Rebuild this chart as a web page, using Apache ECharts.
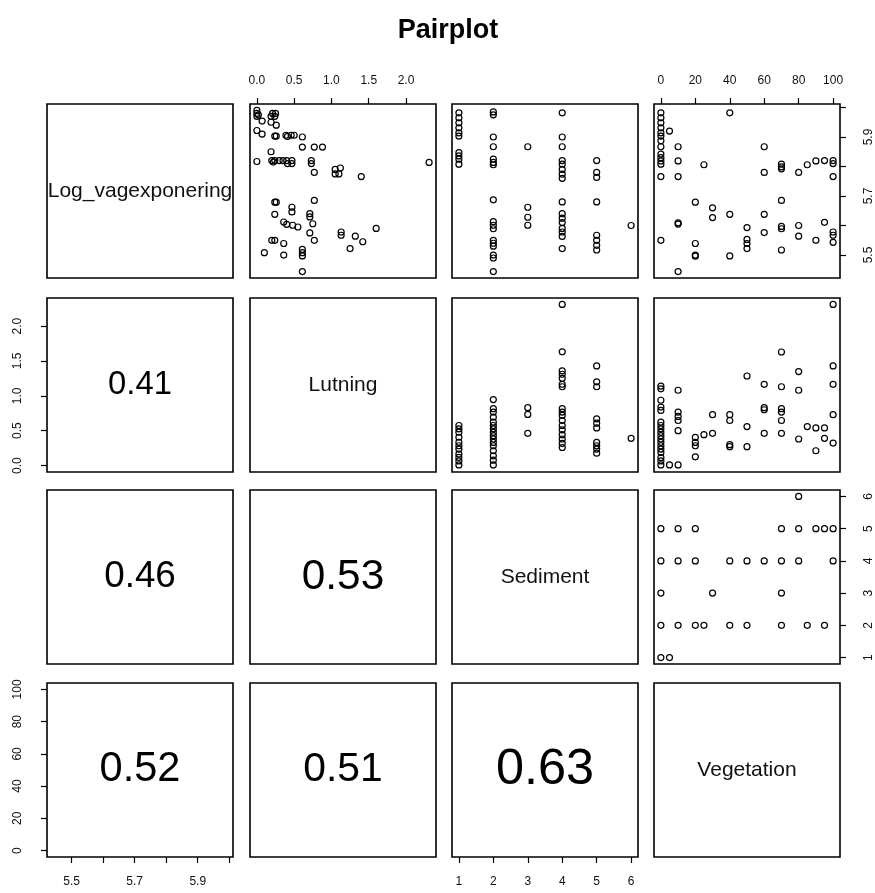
<!DOCTYPE html>
<html>
<head>
<meta charset="utf-8">
<script src="https://cdn.jsdelivr.net/npm/echarts@6/dist/echarts.min.js"></script>
<style>
html, body { margin: 0; padding: 0; background: #fff; }
#chart { width: 875px; height: 893px; }
</style>
</head>
<body>
<div id="chart"></div>
<script>
// diagonal labels
const varNames = ['Log_vagexponering', 'Lutning', 'Sediment', 'Vegetation'];

// lower panels: [row, col, r]
const corValues = [[1, 0, 0.41], [2, 0, 0.46], [2, 1, 0.53], [3, 0, 0.52], [3, 1, 0.51], [3, 2, 0.63]];

// tick marks / labels
const logTicks = [5.5, 5.6, 5.7, 5.8, 5.9, 6.0];
const logLabels = [5.5, 5.7, 5.9];
const lutTicks = [0, 0.5, 1, 1.5, 2];
const sedTicks = [1, 2, 3, 4, 5, 6];
const vegTicks = [0, 20, 40, 60, 80, 100];

// upper panels, [x, y]
// Lutning vs Log_vagexponering
const lutLog = [
  [0, 5.99], [0, 5.98], [0, 5.97], [0.02, 5.975], [0.21, 5.98], [0.25, 5.98], [0.19, 5.97], [0.24, 5.97],
  [0.07, 5.954], [0.19, 5.95], [0.26, 5.94], [0, 5.922], [0.07, 5.91], [0.24, 5.903], [0.26, 5.903],
  [0.39, 5.906], [0.46, 5.906], [0.5, 5.906], [0.41, 5.902], [0.61, 5.9], [0.61, 5.866], [0.77, 5.866],
  [0.88, 5.866], [0, 5.817], [0.19, 5.85], [0.2, 5.82], [0.24, 5.82], [0.3, 5.82], [0.35, 5.82], [0.4, 5.82],
  [0.47, 5.82], [0.22, 5.815], [0.41, 5.81], [0.47, 5.81], [0.73, 5.82], [0.73, 5.81], [0.77, 5.78],
  [1.05, 5.79], [1.12, 5.795], [1.05, 5.775], [1.1, 5.775], [1.4, 5.766], [2.31, 5.814], [0.24, 5.679],
  [0.26, 5.679], [0.77, 5.685], [0.47, 5.662], [0.47, 5.646], [0.24, 5.638], [0.71, 5.64], [0.71, 5.629],
  [0.75, 5.606], [0.36, 5.612], [0.4, 5.604], [0.48, 5.601], [0.55, 5.595], [0.71, 5.575], [0.77, 5.55],
  [1.13, 5.578], [1.13, 5.567], [1.32, 5.564], [1.42, 5.545], [1.6, 5.59], [1.25, 5.522], [0.2, 5.55],
  [0.24, 5.55], [0.36, 5.539], [0.1, 5.508], [0.36, 5.5], [0.61, 5.519], [0.61, 5.508], [0.61, 5.497],
  [0.61, 5.444]
];
// Sediment vs Log_vagexponering
const sedLog = [
  [1, 5.982], [1, 5.965], [1, 5.948], [1, 5.931], [1, 5.914], [1, 5.903], [1, 5.847], [1, 5.836], [1, 5.825], [1, 5.808],
  [2, 5.985], [2, 5.975], [2, 5.9], [2, 5.867], [2, 5.825], [2, 5.814], [2, 5.806], [2, 5.687], [2, 5.613],
  [2, 5.601], [2, 5.589], [2, 5.55], [2, 5.54], [2, 5.53], [2, 5.5], [2, 5.49], [2, 5.444],
  [3, 5.867], [3, 5.662], [3, 5.628], [3, 5.601],
  [4, 5.982], [4, 5.9], [4, 5.867], [4, 5.82], [4, 5.808], [4, 5.79], [4, 5.774], [4, 5.76], [4, 5.68],
  [4, 5.64], [4, 5.625], [4, 5.61], [4, 5.59], [4, 5.578], [4, 5.563], [4, 5.522],
  [5, 5.82], [5, 5.78], [5, 5.763], [5, 5.68], [5, 5.567], [5, 5.55], [5, 5.533], [5, 5.517],
  [6, 5.6]
];
// Vegetation vs Log_vagexponering
const vegLog = [
  [0, 5.982], [0, 5.965], [0, 5.948], [0, 5.931], [0, 5.914], [0, 5.903], [0, 5.887], [0, 5.867], [0, 5.842],
  [0, 5.83], [0, 5.819], [0, 5.808], [0, 5.766], [0, 5.55], [5, 5.92],
  [10, 5.867], [10, 5.819], [10, 5.766], [10, 5.609], [10, 5.605], [10, 5.444],
  [25, 5.806], [20, 5.679], [20, 5.539], [20, 5.5], [20, 5.496], [30, 5.66], [30, 5.627],
  [40, 5.982], [40, 5.638], [40, 5.497], [50, 5.593], [50, 5.553], [50, 5.539], [50, 5.522],
  [60, 5.867], [60, 5.78], [60, 5.638], [60, 5.576],
  [70, 5.808], [70, 5.799], [70, 5.792], [70, 5.685], [70, 5.597], [70, 5.589], [70, 5.517],
  [80, 5.78], [80, 5.6], [80, 5.564], [85, 5.806], [90, 5.819], [90, 5.55], [95, 5.82], [95, 5.611],
  [100, 5.82], [100, 5.81], [100, 5.766], [100, 5.578], [100, 5.567], [100, 5.543]
];
// Sediment vs Lutning
const sedLut = [
  [1, 0.574], [1, 0.526], [1, 0.478], [1, 0.406], [1, 0.333], [1, 0.284], [1, 0.236], [1, 0.164], [1, 0.116], [1, 0.067], [1, 0.009],
  [2, 0.946], [2, 0.816], [2, 0.767], [2, 0.694], [2, 0.622], [2, 0.574], [2, 0.526], [2, 0.477], [2, 0.429],
  [2, 0.381], [2, 0.332], [2, 0.284], [2, 0.212], [2, 0.139], [2, 0.077], [2, 0.009],
  [3, 0.83], [3, 0.733], [3, 0.462],
  [4, 2.31], [4, 1.63], [4, 1.357], [4, 1.309], [4, 1.251], [4, 1.164], [4, 1.13], [4, 0.816], [4, 0.767],
  [4, 0.719], [4, 0.646], [4, 0.574], [4, 0.512], [4, 0.443], [4, 0.381], [4, 0.317], [4, 0.259],
  [5, 1.429], [5, 1.2], [5, 1.13], [5, 0.67], [5, 0.607], [5, 0.54], [5, 0.332], [5, 0.284], [5, 0.236], [5, 0.178],
  [6, 0.39]
];
// Vegetation vs Lutning
const vegLut = [
  [0, 1.14], [0, 1.1], [0, 0.936], [0, 0.839], [0, 0.791], [0, 0.622], [0, 0.574], [0, 0.526], [0, 0.477],
  [0, 0.429], [0, 0.381], [0, 0.333], [0, 0.284], [0, 0.236], [0, 0.188], [0, 0.114], [0, 0.067], [0, 0.009],
  [5, 0.009], [10, 1.08], [10, 0.767], [10, 0.704], [10, 0.646], [10, 0.5], [10, 0.009],
  [20, 0.404], [20, 0.332], [20, 0.284], [20, 0.125], [25, 0.443], [30, 0.729], [30, 0.462],
  [40, 0.729], [40, 0.646], [40, 0.299], [40, 0.27], [50, 1.284], [50, 0.559], [50, 0.27],
  [60, 1.164], [60, 0.83], [60, 0.8], [60, 0.462],
  [70, 1.628], [70, 1.13], [70, 0.816], [70, 0.767], [70, 0.646], [70, 0.462],
  [80, 1.347], [80, 1.08], [80, 0.381], [85, 0.559], [90, 0.54], [90, 0.212], [95, 0.54], [95, 0.39],
  [100, 2.31], [100, 1.429], [100, 1.164], [100, 0.729], [100, 0.323]
];
// Vegetation vs Sediment
const vegSed = [
  [80, 6],
  [0, 5], [10, 5], [20, 5], [70, 5], [80, 5], [90, 5], [95, 5], [100, 5],
  [0, 4], [10, 4], [20, 4], [40, 4], [50, 4], [60, 4], [70, 4], [80, 4], [100, 4],
  [0, 3], [30, 3], [70, 3],
  [0, 2], [10, 2], [20, 2], [25, 2], [40, 2], [50, 2], [70, 2], [85, 2], [95, 2],
  [0, 1], [5, 1]
];

const panels = [
  { r: 0, c: 1, data: lutLog }, { r: 0, c: 2, data: sedLog }, { r: 0, c: 3, data: vegLog },
  { r: 1, c: 2, data: sedLut }, { r: 1, c: 3, data: vegLut }, { r: 2, c: 3, data: vegSed }
];

// axis limits like R: data range + 4% each side
function dataRange(v) {
  let lo = Infinity, hi = -Infinity;
  panels.forEach(p => {
    p.data.forEach(d => {
      if (p.c === v) { lo = Math.min(lo, d[0]); hi = Math.max(hi, d[0]); }
      if (p.r === v) { lo = Math.min(lo, d[1]); hi = Math.max(hi, d[1]); }
    });
  });
  const pad = (hi - lo) * 0.04;
  return [lo - pad, hi + pad];
}

const fmt1 = v => v.toFixed(1);
const fmt0 = v => String(Math.round(v));
const vars = [
  { ticks: logTicks, labels: logLabels, fmt: fmt1 },
  { ticks: lutTicks, labels: lutTicks, fmt: fmt1 },
  { ticks: sedTicks, labels: sedTicks, fmt: fmt0 },
  { ticks: vegTicks, labels: vegTicks, fmt: fmt0 }
];
vars.forEach((v, i) => { v.lim = dataRange(i); });

const colLeft = [47, 250, 452, 654];
const rowTop = [104, 298, 490, 683];
const boxW = 186, boxH = 174;
const font = 'Liberation Sans, Arial, sans-serif';

const grids = [], xAxes = [], yAxes = [], series = [];

for (let r = 0; r < 4; r++) {
  for (let c = 0; c < 4; c++) {
    const g = r * 4 + c;
    grids.push({
      left: colLeft[c], top: rowTop[r], width: boxW, height: boxH,
      show: true, borderColor: '#000', borderWidth: 1.6, backgroundColor: 'transparent'
    });
    const showX = (r === 0 && (c === 1 || c === 3)) || (r === 3 && (c === 0 || c === 2));
    const showY = (c === 0 && (r === 1 || r === 3)) || (c === 3 && (r === 0 || r === 2));
    const vx = vars[c], vy = vars[r];
    xAxes.push({
      type: 'value', gridIndex: g, min: vx.lim[0], max: vx.lim[1],
      position: r === 0 ? 'top' : 'bottom',
      axisLine: { show: false, onZero: false }, splitLine: { show: false },
      axisTick: { show: showX, length: 6, customValues: vx.ticks, lineStyle: { color: '#000', width: 1.2 } },
      axisLabel: {
        show: showX, customValues: vx.labels, formatter: vx.fmt,
        fontSize: 12, color: '#111', fontFamily: font, margin: r === 0 ? 17 : 19
      }
    });
    yAxes.push({
      type: 'value', gridIndex: g, min: vy.lim[0], max: vy.lim[1],
      position: c === 0 ? 'left' : 'right',
      axisLine: { show: false, onZero: false }, splitLine: { show: false },
      axisTick: { show: showY, length: 6, customValues: vy.ticks, lineStyle: { color: '#000', width: 1.2 } },
      axisLabel: {
        show: showY, customValues: vy.labels, formatter: vy.fmt, rotate: 90,
        fontSize: 12, color: '#111', fontFamily: font, margin: 23
      }
    });
  }
}

function centre(r, c) {
  return [(vars[c].lim[0] + vars[c].lim[1]) / 2, (vars[r].lim[0] + vars[r].lim[1]) / 2];
}

// scatter panels (open circles, like pch = 1)
panels.forEach(p => {
  const g = p.r * 4 + p.c;
  series.push({
    type: 'scatter', xAxisIndex: g, yAxisIndex: g, data: p.data,
    symbol: 'circle', symbolSize: 6, silent: true,
    itemStyle: { color: 'rgba(0,0,0,0)', borderColor: '#000', borderWidth: 1.2, opacity: 1 }
  });
});

// diagonal names
varNames.forEach((name, i) => {
  const g = i * 4 + i;
  series.push({
    type: 'scatter', xAxisIndex: g, yAxisIndex: g, data: [centre(i, i)],
    symbolSize: 0, silent: true, itemStyle: { opacity: 1 },
    label: { show: true, position: 'inside', formatter: name, fontSize: 21, color: '#111', fontFamily: font }
  });
});

// correlations, text size proportional to r
corValues.forEach(([r, c, v]) => {
  const g = r * 4 + c;
  series.push({
    type: 'scatter', xAxisIndex: g, yAxisIndex: g, data: [centre(r, c)],
    symbolSize: 0, silent: true, itemStyle: { opacity: 1 },
    label: { show: true, position: 'inside', formatter: v.toFixed(2), fontSize: 80 * v, color: '#000', fontFamily: font }
  });
});

const chart = echarts.init(document.getElementById('chart'), null, { renderer: 'canvas' });
chart.setOption({
  animation: false,
  backgroundColor: '#fff',
  title: {
    text: 'Pairplot', left: 443, top: 12, textAlign: 'center',
    textStyle: { fontSize: 27, fontWeight: 'bold', color: '#000', fontFamily: font }
  },
  grid: grids,
  xAxis: xAxes,
  yAxis: yAxes,
  series: series
});
</script>
</body>
</html>
